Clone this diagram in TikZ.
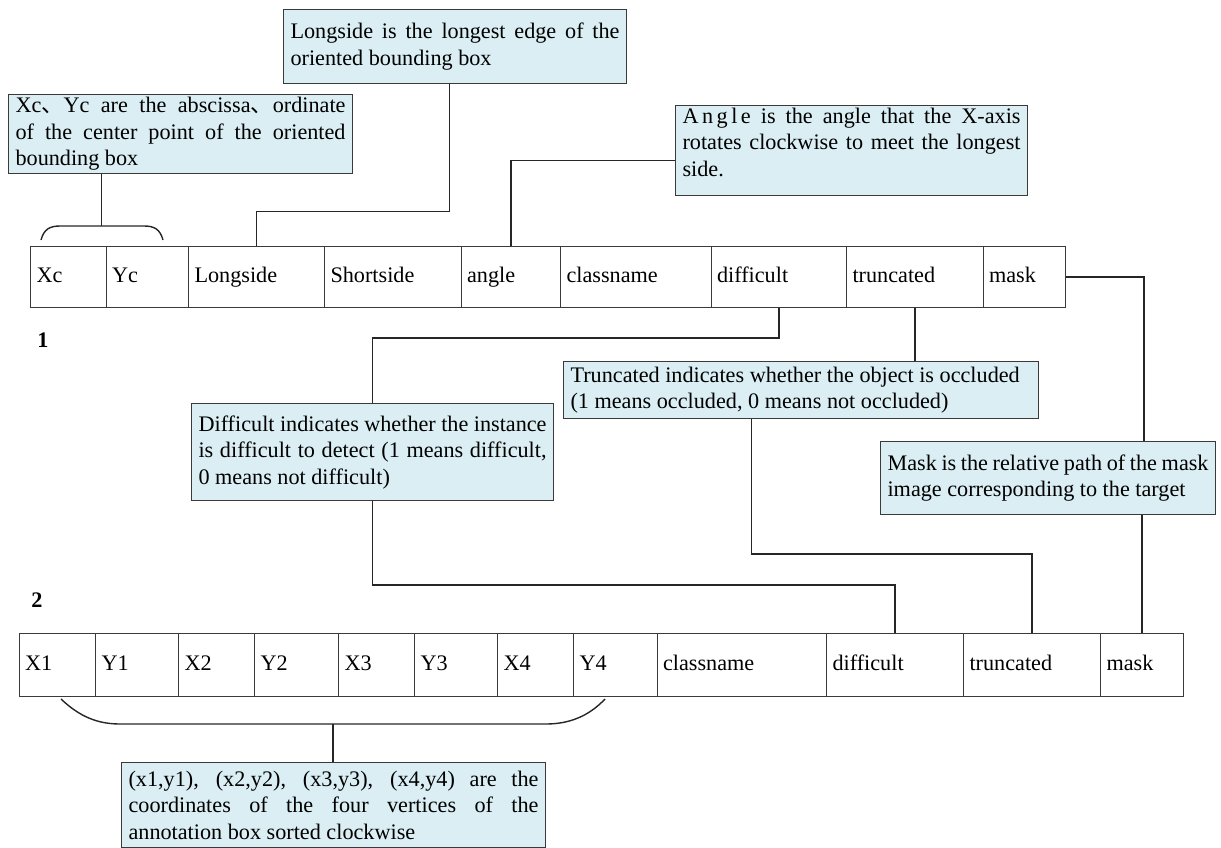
\documentclass[tikz,border=0pt]{standalone}
\usepackage{fontspec}
\setmainfont{Liberation Serif}
\newfontfamily\cjk{Noto Sans CJK SC}
\definecolor{boxfill}{HTML}{DAEEF3}
\definecolor{edge}{HTML}{3A3A3A}
\newcommand\jl[1]{\makebox[\hsize][s]{#1}}
\begin{document}
\begin{tikzpicture}[x=1pt,y=-1pt,
  font=\fontsize{22.2}{26.5}\selectfont,
  cell/.style={draw=edge, line width=1.1pt, anchor=north west, inner xsep=6pt, inner ysep=0pt, align=justify, execute at begin node=\strut},
  rowa/.style={cell, minimum height=61pt},
  rowb/.style={cell, minimum height=63pt},
  note/.style={draw=edge, line width=1.1pt, fill=boxfill, anchor=north west, inner xsep=7pt, inner ysep=2pt, align=justify},
  conn/.style={draw=black!85, line width=1.4pt},
  lab/.style={font=\bfseries\fontsize{22.2}{26.5}\selectfont, inner sep=0pt}]
\useasboundingbox (0,0) rectangle (1221,848);

% row 1
\node[rowa, text width=63.5pt] (c1) at (30,246) {Xc};
\node[rowa, text width=70.5pt] (c2) at (105.5,246) {Yc};
\node[rowa, text width=124pt] (c3) at (188,246) {Longside};
\node[rowa, text width=124.5pt] (c4) at (324,246) {Shortside};
\node[rowa, text width=87.5pt] (c5) at (460.5,246) {angle};
\node[rowa, text width=138.5pt] (c6) at (560,246) {classname};
\node[rowa, text width=123.5pt] (c7) at (710.5,246) {difficult};
\node[rowa, text width=124.5pt] (c8) at (846,246) {truncated};
\node[rowa, text width=70.5pt] (c9) at (982.5,246) {mask};

% row 2
\node[rowb, text width=64.5pt] (d1) at (18.5,633) {X1};
\node[rowb, text width=71pt] (d2) at (95,633) {Y1};
\node[rowb, text width=64pt] (d3) at (178,633) {X2};
\node[rowb, text width=72pt] (d4) at (254,633) {Y2};
\node[rowb, text width=64pt] (d5) at (338,633) {X3};
\node[rowb, text width=71pt] (d6) at (414,633) {Y3};
\node[rowb, text width=64pt] (d7) at (497,633) {X4};
\node[rowb, text width=71.5pt] (d8) at (573,633) {Y4};
\node[rowb, text width=157.5pt] (d9) at (656.5,633) {classname};
\node[rowb, text width=125pt] (d10) at (826,633) {difficult};
\node[rowb, text width=125pt] (d11) at (963,633) {truncated};
\node[rowb, text width=71pt] (d12) at (1100,633) {mask};

% labels
\node[lab] (lab1) at (43,340) {1};
\node[lab] (lab2) at (37,600) {2};

% notes
\node[note, text width=330pt, minimum height=79pt] (tl) at (8,94)
  {\jl{Xc{\cjk 、}Yc are the abscissa{\cjk 、}ordinate}\\ \jl{of the center point of the oriented}\\ bounding box};
\node[note, text width=329pt, minimum height=74pt] (ls) at (283,9)
  {\jl{Longside is the longest edge of the}\\ oriented bounding box};
\node[note, text width=338pt, minimum height=90pt] (ang) at (675,105)
  {\jl{A\kern3.5pt n\kern3.5pt g\kern3.5pt l\kern3.5pt e is the angle that the X-axis}\\ \jl{rotates clockwise to meet the longest}\\ side.\rule[-17pt]{0pt}{1pt}};
\node[note, text width=348pt, minimum height=97pt] (diff) at (191,403)
  {\jl{Difficult indicates whether the instance}\\ \jl{is difficult to detect (1 means difficult,}\\ 0 means not difficult)};
\node[note, text width=461pt, minimum height=57pt] (trunc) at (563,361)
  {Truncated indicates whether the object is occluded\\ (1 means occluded, 0 means not occluded)};
\node[note, text width=321pt, minimum height=73pt] (mask) at (880,441)
  {\jl{Mask is the relative path of the mask}\\ image corresponding to the target};
\node[note, text width=410pt, minimum height=85pt] (bot) at (121,762)
  {\jl{(x1,y1), (x2,y2), (x3,y3), (x4,y4) are the}\\ \jl{coordinates of the four vertices of the}\\ annotation box sorted clockwise};

% top brace
\draw[conn] (41,240) .. controls (44,229) and (50,226) .. (60,226) -- (144,226) .. controls (154,226) and (160,229) .. (163,240);
\coordinate (tb) at (101.7,226);
\draw[conn] (tb) -- (tb |- tl.south);

% bottom brace
\draw[conn] (61,699) .. controls (80,717) and (98,724) .. (120,724) -- (546,724) .. controls (568,724) and (588,717) .. (605,699);
\coordinate (bb) at (333,724);
\draw[conn] (bb) -- (bb |- bot.north);

% connectors
\draw[conn] (c3.north) -- ++(0,-34.3) -| ([xshift=-5.5pt]ls.south);
\draw[conn] (c5.north) |- ([yshift=-10pt]ang.west);
\draw[conn] (c7.south) -- ++(0,29.7) -| (diff.north);
\draw[conn] (diff.south) -- ++(0,84) -| (d10.north);
\draw[conn] (c8.south) -- (c8.south |- trunc.north);
\draw[conn] ([xshift=-49.7pt]trunc.south) -- ++(0,135) -| (d11.north);
\draw[conn] (c9.east) -| ([xshift=96pt]mask.north);
\draw[conn] (d12.north |- mask.south) -- (d12.north);
\end{tikzpicture}
\end{document}
